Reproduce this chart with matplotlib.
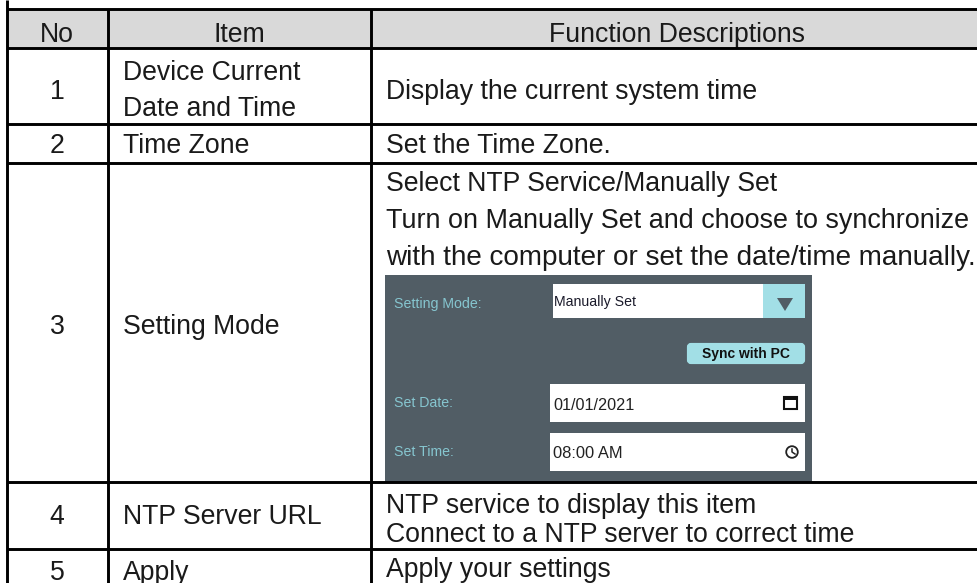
"""Settings table with the embedded date/time panel."""
import matplotlib
matplotlib.use('Agg')
import matplotlib.pyplot as plt
from matplotlib.patches import Rectangle, FancyBboxPatch, Polygon, Circle

header = ['No', 'Item', 'Function Descriptions']
numbers = ['1', '2', '3', '4', '5']
items = ['Device Current\nDate and Time', 'Time Zone', 'Setting Mode', 'NTP Server URL', 'Apply']
desc_1 = 'Display the current system time'
desc_2 = 'Set the Time Zone.'
desc_3 = ['Select NTP Service/Manually Set',
          'Turn on Manually Set and choose to synchronize',
          'with the computer or set the date/time manually.']
desc_4 = ['NTP service to display this item', 'Connect to a NTP server to correct time']
desc_5 = 'Apply your settings'
panel_labels = ['Setting Mode:', 'Set Date:', 'Set Time:']
panel_values = ['Manually Set', '01/01/2021', '08:00 AM']
button_label = 'Sync with PC'

W, H = 978, 583
FS = 19.2
PANEL = '#515d65'
ACCENT = '#a2dfe6'

plt.rcParams['font.family'] = ['Liberation Sans', 'DejaVu Sans']
fig = plt.figure(figsize=(W / 100, H / 100), dpi=100)
ax = fig.add_axes([0, 0, 1, 1])
ax.set_xlim(0, W)
ax.set_ylim(H, 0)
ax.axis('off')

row_lines = [9, 47.5, 124, 163, 482, 549]
col_lines = [7, 108, 371]
num_x, item_x, desc_x = 57, 239, 677
TXT = '#1a1a1a'


def put(x, y, s, ha='left', size=FS, color=TXT, **kw):
    ax.text(x, y, s, ha=ha, va='center', fontsize=size, color=color, **kw)


# header band
ax.add_patch(Rectangle((7, 9), W - 7, 38.5, facecolor='#d9d9d9', edgecolor='none', zorder=0))

# embedded screenshot
ax.add_patch(Rectangle((385, 275), 427, 207, facecolor=PANEL, edgecolor='none', zorder=1))
ax.add_patch(Rectangle((553, 284), 210, 34, facecolor='white', edgecolor='none', zorder=2))
ax.add_patch(Rectangle((763, 284), 42, 34, facecolor=ACCENT, edgecolor='none', zorder=2))
ax.add_patch(Polygon([[777, 298], [793, 298], [785, 311]], facecolor=PANEL, edgecolor='none', zorder=3))
ax.add_patch(FancyBboxPatch((689, 345), 114, 17, boxstyle='round,pad=0,rounding_size=2',
                            facecolor=ACCENT, edgecolor=ACCENT, linewidth=3, zorder=2))
ax.add_patch(Rectangle((550, 384), 255, 38, facecolor='white', edgecolor='none', zorder=2))
ax.add_patch(Rectangle((550, 433), 255, 38, facecolor='white', edgecolor='none', zorder=2))

# calendar and clock icons
ax.add_patch(Rectangle((784, 397), 13, 12, facecolor='white', edgecolor='#111111', linewidth=1.5, zorder=3))
ax.add_patch(Rectangle((784, 396), 13, 4, facecolor='#111111', edgecolor='none', zorder=3))
ax.add_patch(Circle((792, 452), 5.8, facecolor='white', edgecolor='#222222', linewidth=1.3, zorder=3))
ax.plot([792, 792, 795], [449, 452, 454], color='#222222', lw=1.1, zorder=4)

for y, s in zip([304, 403, 452], panel_labels):
    put(394, y, s, size=10.2, color='#86c6d0', zorder=4)
put(554, 302, panel_values[0], size=10.2, color='#1a1a2a', zorder=4)
put(553, 405, panel_values[1], size=11.7, color='#222222', zorder=4)
put(553, 453, panel_values[2], size=11.9, color='#222222', zorder=4)
put(746, 354, button_label, ha='center', size=10, color='#111111', fontweight='bold', zorder=4)

# grid
for y in row_lines:
    ax.plot([7, W], [y, y], color='black', lw=2.1, solid_capstyle='butt', zorder=5)
for x in col_lines:
    ax.plot([x, x], [0 if x == 7 else 9, H], color='black', lw=2.1, solid_capstyle='butt', zorder=5)

# header text
for x, s in zip([num_x, item_x, desc_x], header):
    put(x, 34.5, s, ha='center')

# number and item columns
for y, n in zip([92, 146, 327, 517, 573], numbers):
    put(num_x, y, n, ha='center')
put(123, 73.5, items[0].split('\n')[0])
put(123, 109.5, items[0].split('\n')[1])
for y, s in zip([146, 327, 517, 573], items[1:]):
    put(123, y, s)

# description column
put(386, 92, desc_1)
put(386, 146, desc_2)
put(386, 184, desc_3[0])
put(386, 221, desc_3[1], size=19.4)
put(386, 258, desc_3[2], size=20.1)
for y, s in zip([506, 535], desc_4):
    put(386, y, s)
put(386, 570, desc_5)

fig.savefig('out.png', dpi=100)
